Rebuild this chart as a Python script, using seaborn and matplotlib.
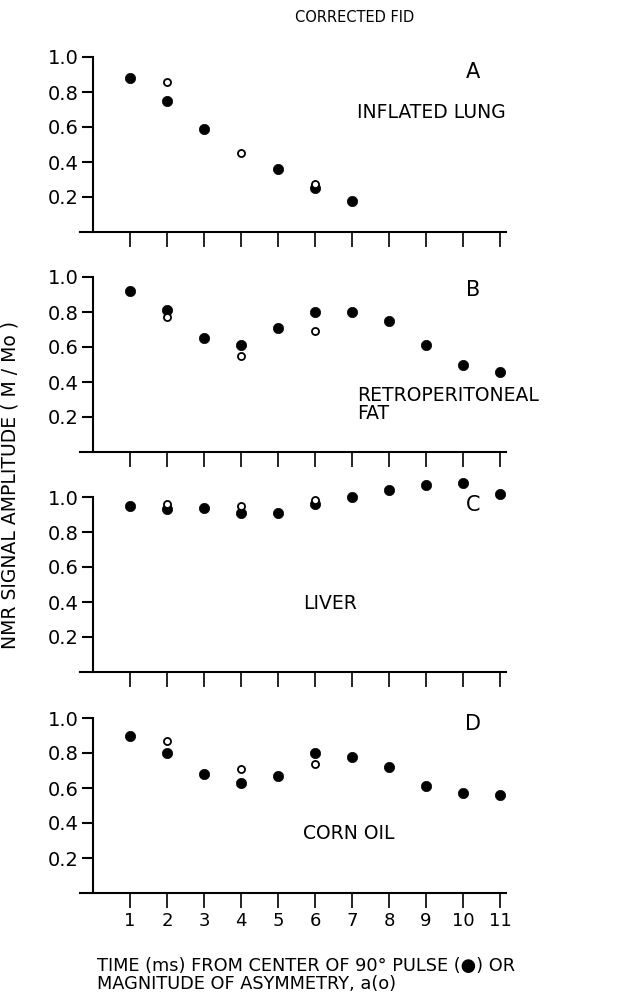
import numpy as np
import pandas as pd
import matplotlib
matplotlib.use("Agg")
import matplotlib.pyplot as plt
import seaborn as sns

sns.set_style("white")
plt.rcParams['font.family'] = ['DejaVu Sans']
plt.rcParams['text.color'] = 'black'
plt.rcParams['xtick.color'] = 'black'
plt.rcParams['ytick.color'] = 'black'

# ---------------- data ----------------
panel_letters = ["A", "B", "C", "D"]
tissues = ["INFLATED LUNG", "RETROPERITONEAL\nFAT", "LIVER", "CORN OIL"]

# filled circles: time (ms) from centre of 90 deg pulse
a_time_x = [1, 2, 3, 5, 6, 7]
a_time_y = [0.88, 0.75, 0.59, 0.36, 0.25, 0.18]
b_time_x = [1, 2, 3, 4, 5, 6, 7, 8, 9, 10, 11]
b_time_y = [0.92, 0.81, 0.65, 0.61, 0.71, 0.80, 0.80, 0.75, 0.61, 0.50, 0.46]
c_time_x = [1, 2, 3, 4, 5, 6, 7, 8, 9, 10, 11]
c_time_y = [0.95, 0.93, 0.94, 0.91, 0.91, 0.96, 1.00, 1.04, 1.07, 1.08, 1.02]
d_time_x = [1, 2, 3, 4, 5, 6, 7, 8, 9, 10, 11]
d_time_y = [0.90, 0.80, 0.68, 0.63, 0.67, 0.80, 0.78, 0.72, 0.61, 0.57, 0.56]

# open circles: magnitude of asymmetry, a
a_asym_x = [2, 4, 6]
a_asym_y = [0.855, 0.45, 0.275]
b_asym_x = [2, 4, 6]
b_asym_y = [0.77, 0.55, 0.69]
c_asym_x = [2, 4, 6]
c_asym_y = [0.96, 0.95, 0.985]
d_asym_x = [2, 4, 6]
d_asym_y = [0.87, 0.71, 0.74]

x_ticks = [1, 2, 3, 4, 5, 6, 7, 8, 9, 10, 11]
y_ticks = [0.2, 0.4, 0.6, 0.8, 1.0]
y_tick_labels = ["0.2", "0.4", "0.6", "0.8", "1.0"]

time_sets = [(a_time_x, a_time_y), (b_time_x, b_time_y),
             (c_time_x, c_time_y), (d_time_x, d_time_y)]
asym_sets = [(a_asym_x, a_asym_y), (b_asym_x, b_asym_y),
             (c_asym_x, c_asym_y), (d_asym_x, d_asym_y)]

# ---------------- layout ----------------
W, H = 627, 1007
fig = plt.figure(figsize=(W / 100, H / 100), dpi=100)

x0_px = 93.0
unit_x = 37.0
xmin, xmax = -0.35, 11.15
unit_y = 175.0
ymax = 1.15
axis_y_px = [232, 452, 672, 893]
label_pos = [(7.14, 0.68), (7.14, 0.27), (5.68, 0.39), (5.68, 0.34)]
letter_y_px = [72, 290, 505, 724]

for i in range(4):
    left = (x0_px + xmin * unit_x) / W
    width = (xmax - xmin) * unit_x / W
    bottom = (H - axis_y_px[i]) / H
    height = ymax * unit_y / H
    ax = fig.add_axes([left, bottom, width, height])

    tx, ty = time_sets[i]
    ox, oy = asym_sets[i]
    df_t = pd.DataFrame({"x": tx, "y": ty})
    df_o = pd.DataFrame({"x": ox, "y": oy})
    sns.scatterplot(data=df_t, x="x", y="y", ax=ax, s=55, color="black",
                    edgecolor="black", linewidth=0.5, zorder=3, clip_on=False)
    sns.scatterplot(data=df_o, x="x", y="y", ax=ax, s=26, facecolor="white",
                    edgecolor="black", linewidth=1.3, zorder=4, clip_on=False)

    for sp in ["top", "right"]:
        ax.spines[sp].set_visible(False)
    ax.spines["left"].set_position(("data", 0))
    ax.spines["left"].set_bounds(0, 1.0)
    ax.spines["left"].set_linewidth(1.5)
    ax.spines["bottom"].set_linewidth(1.5)
    ax.spines["left"].set_color("black")
    ax.spines["bottom"].set_color("black")

    ax.set_xlim(xmin, xmax)
    ax.set_ylim(0, ymax)
    ax.set_xlabel("")
    ax.set_ylabel("")
    ax.set_xticks(x_ticks)
    ax.set_yticks(y_ticks)
    ax.set_yticklabels(y_tick_labels)
    if i == 3:
        ax.set_xticklabels([str(v) for v in x_ticks])
    else:
        ax.set_xticklabels([])
    ax.tick_params(axis="x", direction="out", length=11, width=1.2,
                   color="black", pad=3, bottom=True, labelsize=13,
                   labelcolor="black")
    ax.tick_params(axis="y", direction="out", length=8, width=1.5,
                   color="black", pad=2, left=True, labelsize=14,
                   labelcolor="black")
    ax.patch.set_alpha(0)

    lx, ly = label_pos[i]
    ax.text(lx, ly, tissues[i], ha="left", va="center", fontsize=13.5,
            linespacing=0.95, color="black")
    fig.text(473 / W, 1 - letter_y_px[i] / H, panel_letters[i],
             ha="center", va="center", fontsize=15, color="black")

fig.text(355 / W, 1 - 18 / H, "CORRECTED FID", ha="center", va="center",
         fontsize=10.5, color="black")
fig.text(10 / W, 1 - 485 / H, "NMR SIGNAL AMPLITUDE ( M / Mo )",
         rotation=90, ha="center", va="center", fontsize=13.5, color="black")
fig.text(97 / W, 1 - 966 / H, "TIME (ms) FROM CENTER OF 90° PULSE (●) OR",
         ha="left", va="center", fontsize=12.8, color="black")
fig.text(97 / W, 1 - 984 / H, "MAGNITUDE OF ASYMMETRY, a(o)",
         ha="left", va="center", fontsize=12.8, color="black")

fig.savefig("out.png", dpi=100, facecolor="white")
